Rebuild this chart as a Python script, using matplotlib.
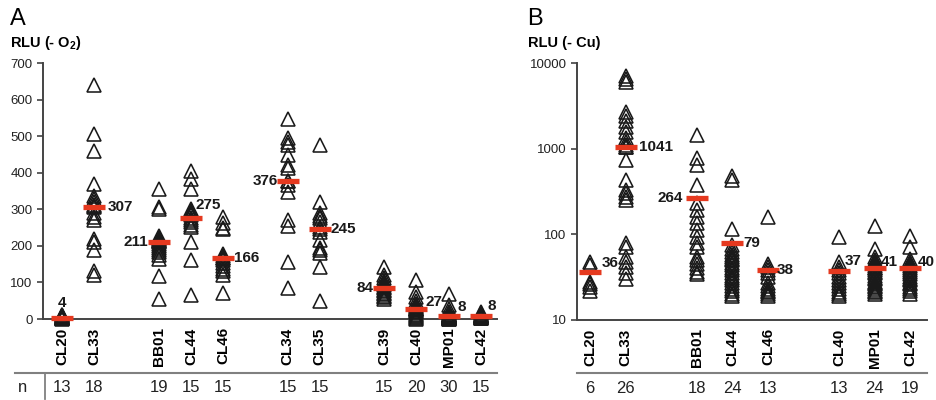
import numpy as np
import matplotlib.pyplot as plt
from matplotlib.lines import Line2D

plt.rcParams['font.family'] = ['Liberation Sans', 'DejaVu Sans']
plt.rcParams['mathtext.fontset'] = 'custom'
plt.rcParams['mathtext.rm'] = 'Liberation Sans'
plt.rcParams['mathtext.bf'] = 'Liberation Sans:bold'

RED = '#e5391f'
INK = '#1a1a1a'
GREY = '#808080'

# ---- panel A: RLU (- O2) ----
strains_a = ["CL20", "CL33", "BB01", "CL44", "CL46", "CL34", "CL35",
             "CL39", "CL40", "MP01", "CL42"]
n_a = [13, 18, 19, 15, 15, 15, 15, 15, 20, 30, 15]
medians_a = [4, 307, 211, 275, 166, 376, 245, 84, 27, 8, 8]
cl20_a = [1, 2, 2, 3, 3, 4, 4, 5, 6, 7, 8, 10, 12]
cl33_a = [640, 505, 460, 368, 335, 328, 320, 312, 308, 306, 290, 278, 270,
          218, 210, 188, 130, 120]
bb01_a = [355, 305, 300, 228, 222, 218, 215, 213, 212, 211, 205, 200, 195,
          190, 182, 175, 165, 118, 55]
cl44_a = [405, 383, 355, 300, 295, 290, 285, 275, 272, 265, 258, 252, 211,
          161, 66]
cl46_a = [280, 262, 250, 245, 178, 172, 168, 166, 160, 152, 145, 138, 130,
          120, 72]
cl34_a = [548, 495, 485, 476, 448, 420, 412, 376, 376, 366, 348, 270, 254,
          156, 85]
cl35_a = [476, 320, 290, 282, 275, 265, 252, 245, 238, 215, 195, 188, 180,
          142, 50]
cl39_a = [142, 120, 112, 105, 98, 92, 88, 84, 80, 76, 72, 68, 64, 60, 55]
cl40_a = [108, 75, 60, 48, 40, 35, 32, 30, 28, 27, 27, 25, 22, 18, 14, 10,
          8, 5, 3, 1]
mp01_a = [68, 38, 28, 20, 16, 14, 12, 11, 10, 10, 9, 9, 9, 8, 8, 8, 8, 7, 7,
          6, 6, 5, 5, 4, 4, 3, 3, 2, 1, 0]
cl42_a = [20, 16, 14, 12, 10, 9, 8, 8, 8, 7, 6, 5, 4, 3, 2]
values_a = [cl20_a, cl33_a, bb01_a, cl44_a, cl46_a, cl34_a, cl35_a,
            cl39_a, cl40_a, mp01_a, cl42_a]

# ---- panel B: RLU (- Cu) ----
strains_b = ["CL20", "CL33", "BB01", "CL44", "CL46", "CL40", "MP01", "CL42"]
n_b = [6, 26, 18, 24, 13, 13, 24, 19]
medians_b = [36, 1041, 264, 79, 38, 37, 41, 40]
cl20_b = [47, 44, 28, 26, 24, 22]
cl33_b = [7000, 6500, 6000, 2700, 2400, 2100, 1800, 1550, 1350, 1200, 1100,
          1050, 1032, 740, 430, 330, 300, 270, 250, 80, 72, 55, 48, 42, 35, 30]
bb01_b = [1440, 780, 640, 380, 235, 190, 160, 135, 112, 93, 80, 72, 55, 50,
          45, 40, 36, 34]
cl44_b = [480, 430, 115, 75, 68, 62, 58, 55, 52, 50, 46, 44, 40, 38, 35, 33,
          31, 29, 27, 25, 23, 22, 20, 19]
cl46_b = [158, 45, 42, 38, 35, 32, 27, 25, 23, 22, 21, 20, 19]
cl40_b = [92, 47, 42, 38, 35, 32, 29, 27, 25, 23, 21, 20, 19]
mp01_b = [125, 68, 55, 50, 47, 45, 43, 41, 40, 38, 36, 35, 33, 31, 30, 28,
          27, 26, 25, 24, 23, 22, 21, 20]
cl42_b = [95, 72, 52, 48, 45, 43, 40, 38, 36, 34, 32, 30, 29, 27, 26, 24,
          23, 22, 20]
values_b = [cl20_b, cl33_b, bb01_b, cl44_b, cl46_b, cl40_b, mp01_b, cl42_b]


def group_positions(sizes):
    pos, x = [], 0
    for s in sizes:
        pos += list(range(x, x + s))
        x += s + 1
    return pos


# where each median label sits, in pixels from the bar centre
lab_a = [(0, 8, 'center', 'bottom'), (13, 0, 'left', 'center'),
         (-11, 0, 'right', 'center'), (5, 13, 'left', 'center'),
         (11, 0, 'left', 'center'), (-10, 0, 'right', 'center'),
         (11, 0, 'left', 'center'), (-11, 0, 'right', 'center'),
         (9, 7, 'left', 'center'), (9, 9, 'left', 'center'),
         (7, 10, 'left', 'center')]
lab_b = [(12, 9, 'left', 'center'), (13, 0, 'left', 'center'),
         (-14, 0, 'right', 'center'), (11, 0, 'left', 'center'),
         (9, 0, 'left', 'center'), (6, 10, 'left', 'center'),
         (6, 6, 'left', 'center'), (7, 6, 'left', 'center')]


def draw(ax, pos, names, values, medians, ns, labs, half):
    for x, vals in zip(pos, values):
        ax.plot([x] * len(vals), vals, ls='none', marker='^', ms=10,
                mfc='none', mec=INK, mew=1.15, clip_on=False, zorder=3)
    pos = np.array(pos)
    ax.hlines(medians, pos - half, pos + half, color=RED, lw=3.8, zorder=4,
              clip_on=False)
    for x, m, (dx, dy, ha, va) in zip(pos, medians, labs):
        ax.annotate(str(m), (x, m), xytext=(dx, dy), textcoords='offset pixels',
                    ha=ha, va=va, fontsize=11, fontweight='bold', color=INK,
                    zorder=5)
    for x, n in zip(pos, ns):
        ax.text(x, -0.266, str(n), transform=ax.get_xaxis_transform(),
                ha='center', va='center', fontsize=12, color='#222222')
    ax.set_xticks(pos)
    ax.set_xticklabels(names, rotation=90, fontweight='bold', fontsize=11)
    ax.tick_params(axis='x', length=0, pad=6)
    ax.tick_params(axis='y', direction='out', length=4, width=1.1,
                   labelsize=9.5, colors='#333333', labelcolor='#222222')
    for s in ('top', 'right'):
        ax.spines[s].set_visible(False)
    for s in ('left', 'bottom'):
        ax.spines[s].set_color('#444444')
        ax.spines[s].set_linewidth(1.4)


fig = plt.figure(figsize=(9.37, 4.0), dpi=100)
W, H = 937.0, 400.0

ax_a = fig.add_axes([43 / W, 1 - 319 / H, (497 - 43) / W, (319 - 63) / H])
pos_a = group_positions([2, 3, 2, 4])
draw(ax_a, pos_a, strains_a, values_a, medians_a, n_a, lab_a, 0.34)
ax_a.set_xlim(-0.59, 13.5)
ax_a.set_ylim(0, 700)
ax_a.set_yticks(range(0, 701, 100))

ax_b = fig.add_axes([577 / W, 1 - 320 / H, (927 - 577) / W, (320 - 63) / H])
pos_b = group_positions([2, 3, 3])
draw(ax_b, pos_b, strains_b, values_b, medians_b, n_b, lab_b, 0.31)
ax_b.set_yscale('log')
ax_b.set_xlim(-0.37, 9.47)
ax_b.set_ylim(10, 10000)
ax_b.set_yticks([10, 100, 1000, 10000])
ax_b.set_yticklabels(['10', '100', '1000', '10000'])
ax_b.yaxis.set_minor_locator(plt.NullLocator())

# panel letters and axis titles
fig.text(10 / W, 1 - 19 / H, 'A', fontsize=17, ha='left', va='center')
fig.text(10 / W, 1 - 43 / H, r'RLU (- O$_\mathbf{2}$)', fontsize=10.5,
         fontweight='bold', ha='left', va='center')
fig.text(527 / W, 1 - 19 / H, 'B', fontsize=17, ha='left', va='center')
fig.text(528 / W, 1 - 43 / H, 'RLU (- Cu)', fontsize=10.5,
         fontweight='bold', ha='left', va='center')

# n row
fig.text(23 / W, 1 - 387 / H, 'n', fontsize=12, ha='center', va='center',
         color='#222222')
fig.add_artist(Line2D([45 / W, 45 / W], [1 - 374 / H, 1 - 399 / H],
                      color=GREY, lw=1.3))
fig.add_artist(Line2D([15 / W, 497 / W], [1 - 373 / H, 1 - 373 / H],
                      color=GREY, lw=1.5))
fig.add_artist(Line2D([577 / W, 927 / W], [1 - 373 / H, 1 - 373 / H],
                      color=GREY, lw=1.5))

fig.savefig('out.png', dpi=100)
